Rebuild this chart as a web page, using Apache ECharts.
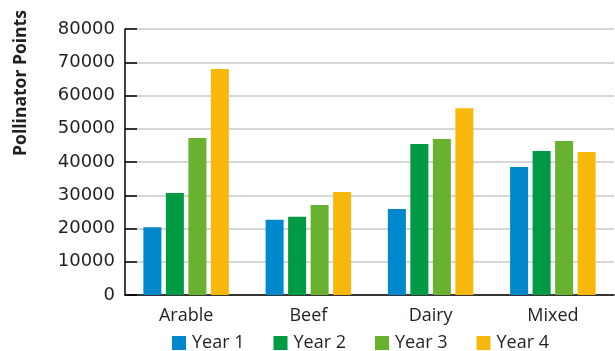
<!DOCTYPE html>
<html><head><meta charset="utf-8">
<script src="https://cdn.jsdelivr.net/npm/echarts@6/dist/echarts.min.js"></script>
<style>html,body{margin:0;padding:0;background:#fff}#c{width:615px;height:351px}</style>
</head><body><div id="c"></div>
<script>
const categories = ['Arable', 'Beef', 'Dairy', 'Mixed'];
const seriesNames = ['Year 1', 'Year 2', 'Year 3', 'Year 4'];
const year1 = [20400, 22600, 25900, 38500];
const year2 = [30700, 23500, 45400, 43300];
const year3 = [47200, 27100, 46900, 46300];
const year4 = [68000, 31000, 56200, 43000];
const colors = ['#0088cf', '#009a44', '#69b22f', '#f8b80b'];
const yAxisTitle = 'Pollinator Points';

const chart = echarts.init(document.getElementById('c'), null, {renderer: 'canvas'});
const allData = [year1, year2, year3, year4];
chart.setOption({
  animation: false,
  color: colors,
  grid: {left: 125, right: 1, top: 29, bottom: 56, containLabel: false},
  legend: {
    data: seriesNames,
    left: 167, top: 329,
    itemWidth: 14, itemHeight: 14, itemGap: 29,
    icon: 'rect',
    textStyle: {fontFamily: 'Open Sans', fontSize: 18, color: '#231f20', padding: [0,0,0,1]}
  },
  graphic: [{
    type: 'text', x: 21, y: 83, rotation: Math.PI / 2,
    style: {text: yAxisTitle, fontFamily: 'Open Sans', fontWeight: 'bold', fontSize: 17.5,
      fill: '#231f20', textAlign: 'center', textVerticalAlign: 'middle'}
  }],
  xAxis: {
    type: 'category', data: categories,
    axisLine: {lineStyle: {color: '#000', width: 1.5}},
    axisTick: {show: false},
    axisLabel: {fontFamily: 'Open Sans', fontSize: 18, color: '#231f20', margin: 12}
  },
  yAxis: {
    type: 'value', min: 0, max: 80000, interval: 10000,
    axisLine: {show: true, lineStyle: {color: '#000', width: 1.5}},
    axisTick: {show: true, inside: true, length: 12, lineStyle: {color: '#000', width: 1.5}},
    splitLine: {lineStyle: {color: '#c8c8c8', width: 1.5}},
    axisLabel: {fontFamily: 'DejaVu Sans', fontSize: 18, color: '#231f20', margin: 10,
      formatter: v => String(v)}
  },
  series: seriesNames.map((n, i) => ({
    name: n, type: 'bar', data: allData[i], barWidth: 18, barGap: '25%'
  }))
});
</script></body></html>
